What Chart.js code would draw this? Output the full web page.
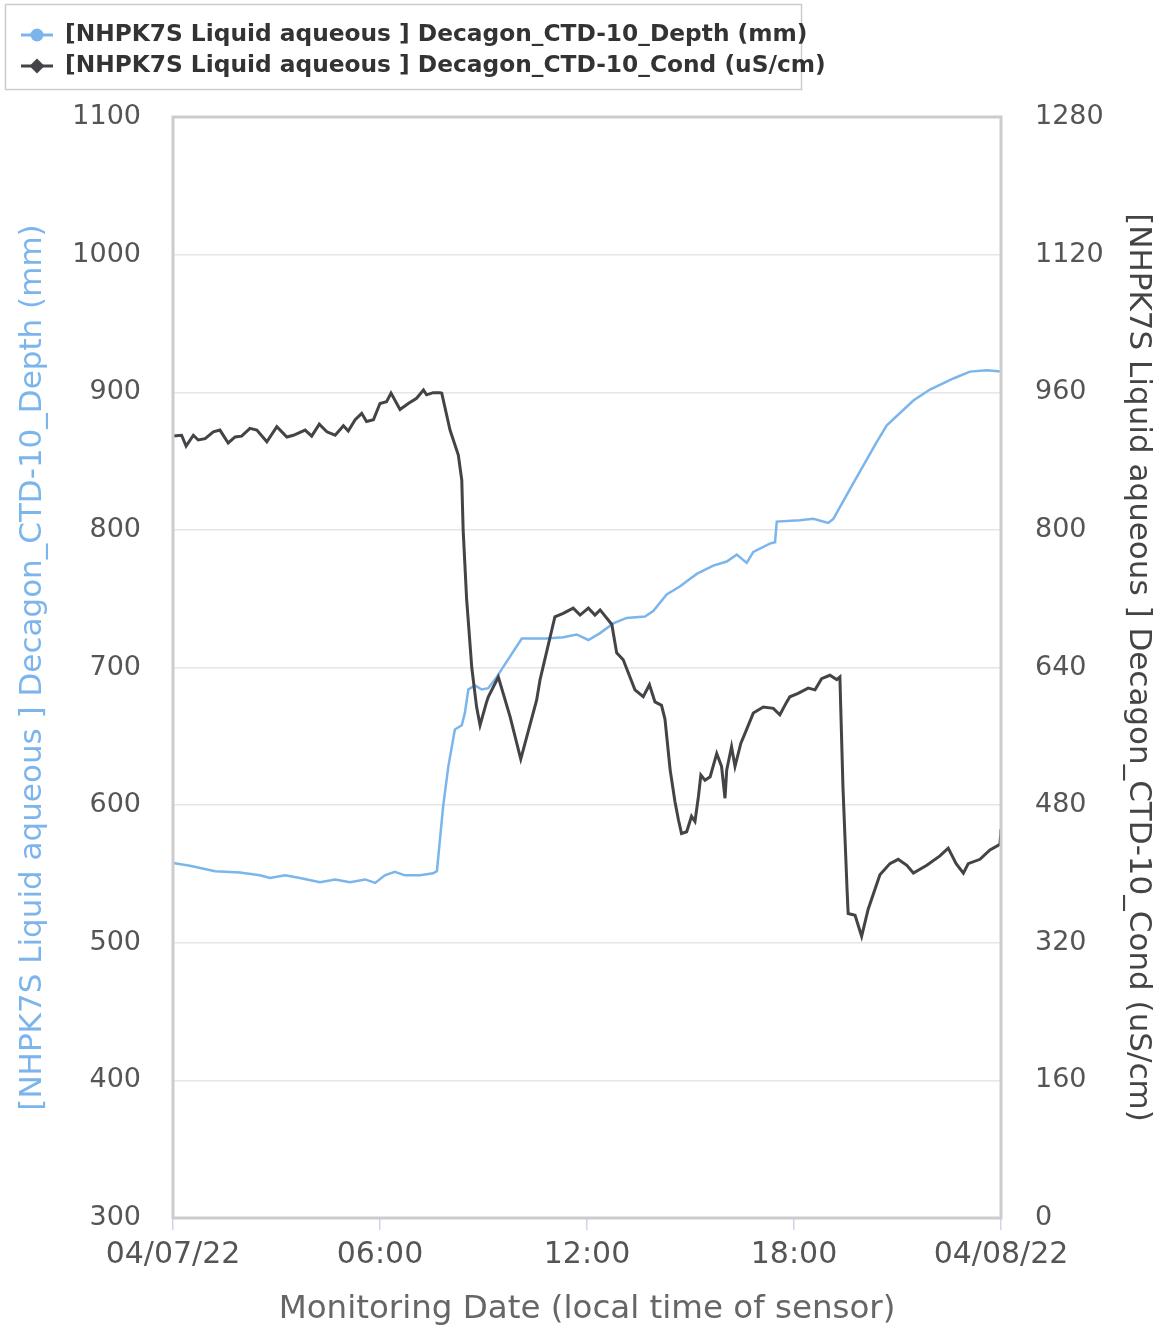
<!DOCTYPE html>
<html>
<head>
<meta charset="utf-8">
<script src="https://cdn.jsdelivr.net/npm/chart.js@4.4.1/dist/chart.umd.min.js"></script>
<style>
  html, body { margin: 0; padding: 0; background: #ffffff; }
  #wrap { position: relative; width: 1163px; height: 1329px; }
</style>
</head>
<body>
<div id="wrap"><canvas id="chart" width="1163" height="1329"></canvas></div>
<script>
// Decagon CTD-10 readings, 04/07/22 00:00 to 04/08/22 00:00 (hours since midnight)
const depthHours = [0.00, 0.49, 1.22, 1.94, 2.52, 2.81, 3.25, 3.68, 4.26, 4.70, 5.13, 5.57, 5.86, 6.14, 6.43, 6.72, 7.16, 7.54, 7.65, 7.83, 7.98, 8.17, 8.37, 8.46, 8.56, 8.75, 8.95, 9.14, 9.38, 10.11, 10.83, 11.31, 11.70, 12.04, 12.38, 12.76, 13.15, 13.68, 13.92, 14.31, 14.70, 15.18, 15.66, 16.05, 16.34, 16.63, 16.82, 17.30, 17.45, 17.50, 18.17, 18.56, 18.99, 19.14, 19.72, 20.40, 20.69, 21.46, 21.94, 22.62, 23.10, 23.59, 24.00];
const depthMm = [558, 556, 552, 551, 549, 547, 549, 547, 544, 546, 544, 546, 543.5, 549, 551.5, 549, 549, 550.5, 552, 599, 628, 655, 658, 667, 684, 687, 684, 685, 693, 721, 721, 722, 724, 720, 725, 732, 736, 737, 741, 753, 759, 768, 774, 777, 782, 776, 784, 790, 791, 806, 807, 808, 805, 808, 834, 864, 876, 894, 902, 910, 915, 916, 915];

const condHours = [0.00, 0.25, 0.38, 0.59, 0.73, 0.93, 1.17, 1.36, 1.60, 1.80, 1.99, 2.23, 2.43, 2.72, 3.01, 3.30, 3.49, 3.83, 4.02, 4.24, 4.46, 4.70, 4.94, 5.08, 5.28, 5.47, 5.61, 5.81, 6.00, 6.19, 6.32, 6.58, 6.82, 7.06, 7.26, 7.35, 7.54, 7.74, 7.79, 8.03, 8.27, 8.37, 8.41, 8.51, 8.66, 8.80, 8.90, 9.09, 9.14, 9.43, 9.77, 10.08, 10.54, 10.64, 11.07, 11.31, 11.60, 11.80, 12.04, 12.23, 12.38, 12.72, 12.86, 13.05, 13.39, 13.63, 13.81, 13.97, 14.16, 14.26, 14.41, 14.55, 14.65, 14.74, 14.89, 15.03, 15.13, 15.23, 15.30, 15.42, 15.57, 15.76, 15.90, 16.00, 16.05, 16.19, 16.29, 16.46, 16.58, 16.82, 17.11, 17.40, 17.59, 17.79, 17.88, 18.12, 18.41, 18.61, 18.80, 19.04, 19.24, 19.33, 19.42, 19.54, 19.57, 19.77, 19.96, 20.15, 20.49, 20.78, 21.02, 21.27, 21.46, 21.85, 22.23, 22.47, 22.70, 22.91, 23.05, 23.39, 23.68, 23.97, 24.00];
const condUsCm = [909, 910, 897.5, 910, 904.5, 906, 914, 916, 901, 908, 909, 918, 916, 902.5, 920, 908, 910, 916, 909, 923, 914, 910, 921, 915, 928, 935.5, 926, 928, 947, 949, 959, 940, 947, 953, 962.6, 957, 959.5, 959.5, 959, 916, 887, 858, 800, 720, 640, 594, 573, 600, 606, 629, 583, 533.5, 602, 626, 699, 703, 709, 701, 709, 701, 707, 690, 657, 649, 614, 606, 620, 600, 596, 580, 521, 484, 463, 447, 449, 467, 461, 490, 515, 509, 513, 540, 525, 488, 521, 548, 525, 552, 563.5, 587, 594, 592.5, 585, 600, 606, 610, 616, 614, 627, 631, 626, 629, 500, 380, 354, 352, 327.5, 359, 399, 412, 417, 410, 401, 410, 421, 430, 412, 401, 412, 417, 428, 434.5, 452];

const xTickHours = [0, 6, 12, 18, 24];
const xTickLabels = ['04/07/22', '06:00', '12:00', '18:00', '04/08/22'];

const depthLabel = '[NHPK7S Liquid aqueous ] Decagon_CTD-10_Depth (mm)';
const condLabel = '[NHPK7S Liquid aqueous ] Decagon_CTD-10_Cond (uS/cm)';
const xTitle = 'Monitoring Date (local time of sensor)';

const BLUE = '#7cb5ec';
const DARK = '#434348';
const FONT = "'DejaVu Sans', sans-serif";

const depthPoints = depthHours.map((h, i) => ({ x: h, y: depthMm[i] }));
const condPoints = condHours.map((h, i) => ({ x: h, y: condUsCm[i] }));

// Frame round the plot area
const plotFrame = {
  id: 'plotFrame',
  afterDatasetsDraw(chart) {
    const { ctx, chartArea: a } = chart;
    ctx.save();
    ctx.strokeStyle = '#cccccc';
    ctx.lineWidth = 3;
    ctx.strokeRect(a.left, a.top, a.right - a.left, a.bottom - a.top);
    ctx.restore();
  }
};

// Boxed legend with line + marker symbols
const boxedLegend = {
  id: 'boxedLegend',
  afterDraw(chart) {
    const ctx = chart.ctx;
    ctx.save();
    ctx.strokeStyle = '#cccccc';
    ctx.lineWidth = 1.5;
    ctx.strokeRect(5.5, 4.5, 796, 85);
    const items = chart.data.datasets;
    items.forEach((ds, i) => {
      const y = 35 + i * 31;
      ctx.strokeStyle = ds.borderColor;
      ctx.fillStyle = ds.borderColor;
      ctx.lineWidth = 3;
      ctx.beginPath();
      ctx.moveTo(21, y);
      ctx.lineTo(53, y);
      ctx.stroke();
      ctx.beginPath();
      if (i === 0) {
        ctx.arc(37, y, 6.5, 0, Math.PI * 2);
      } else {
        ctx.moveTo(37, y - 7.5);
        ctx.lineTo(44.5, y);
        ctx.lineTo(37, y + 7.5);
        ctx.lineTo(29.5, y);
        ctx.closePath();
      }
      ctx.fill();
      ctx.fillStyle = '#333333';
      ctx.font = "bold 23.3px " + FONT;
      ctx.textBaseline = 'middle';
      ctx.textAlign = 'left';
      ctx.fillText(ds.label, 65, y);
    });
    ctx.restore();
  }
};

new Chart(document.getElementById('chart'), {
  type: 'line',
  data: {
    datasets: [
      {
        label: depthLabel,
        data: depthPoints,
        yAxisID: 'yDepth',
        borderColor: BLUE,
        backgroundColor: BLUE,
        borderWidth: 2.5,
        pointRadius: 0,
        tension: 0,
        order: 2
      },
      {
        label: condLabel,
        data: condPoints,
        yAxisID: 'yCond',
        borderColor: DARK,
        backgroundColor: DARK,
        borderWidth: 3,
        pointRadius: 0,
        tension: 0,
        order: 1
      }
    ]
  },
  options: {
    responsive: false,
    animation: false,
    layout: { padding: { top: 117, left: 0, right: 0, bottom: 0 } },
    plugins: {
      legend: { display: false },
      tooltip: { enabled: false }
    },
    scales: {
      x: {
        type: 'linear',
        min: 0,
        max: 24,
        afterBuildTicks(scale) {
          scale.ticks = xTickHours.map(v => ({ value: v }));
        },
        afterFit(scale) { scale.height = 111; },
        grid: {
          drawOnChartArea: false,
          drawTicks: true,
          tickLength: 12,
          color: '#ccd6eb',
          lineWidth: 1.5
        },
        border: { display: false },
        ticks: {
          autoSkip: false,
          maxRotation: 0,
          padding: 7,
          color: '#555555',
          font: { family: FONT, size: 30 },
          callback: (v) => xTickLabels[xTickHours.indexOf(v)]
        },
        title: {
          display: true,
          text: xTitle,
          color: '#666666',
          font: { family: FONT, size: 32.5 },
          padding: { top: 0, bottom: 0 }
        }
      },
      yDepth: {
        type: 'linear',
        position: 'left',
        min: 300,
        max: 1100,
        afterFit(scale) { scale.width = 173; },
        ticks: {
          stepSize: 100,
          padding: 32,
          color: '#555555',
          font: { family: FONT, size: 27 },
          callback: (v) => String(v)
        },
        grid: { color: '#e6e6e6', lineWidth: 1.5, drawTicks: false },
        border: { display: false },
        title: {
          display: true,
          text: depthLabel,
          color: BLUE,
          font: { family: FONT, size: 31 },
          padding: { top: 14, bottom: 0 }
        }
      },
      yCond: {
        type: 'linear',
        position: 'right',
        min: 0,
        max: 1280,
        afterFit(scale) { scale.width = 162; },
        ticks: {
          stepSize: 160,
          padding: 34,
          color: '#555555',
          font: { family: FONT, size: 27 },
          callback: (v) => String(v)
        },
        grid: { drawOnChartArea: false, drawTicks: false },
        border: { display: false },
        title: {
          display: true,
          text: condLabel,
          color: '#444444',
          font: { family: FONT, size: 31 },
          padding: { top: 6, bottom: 0 }
        }
      }
    }
  },
  plugins: [plotFrame, boxedLegend]
});
</script>
</body>
</html>
